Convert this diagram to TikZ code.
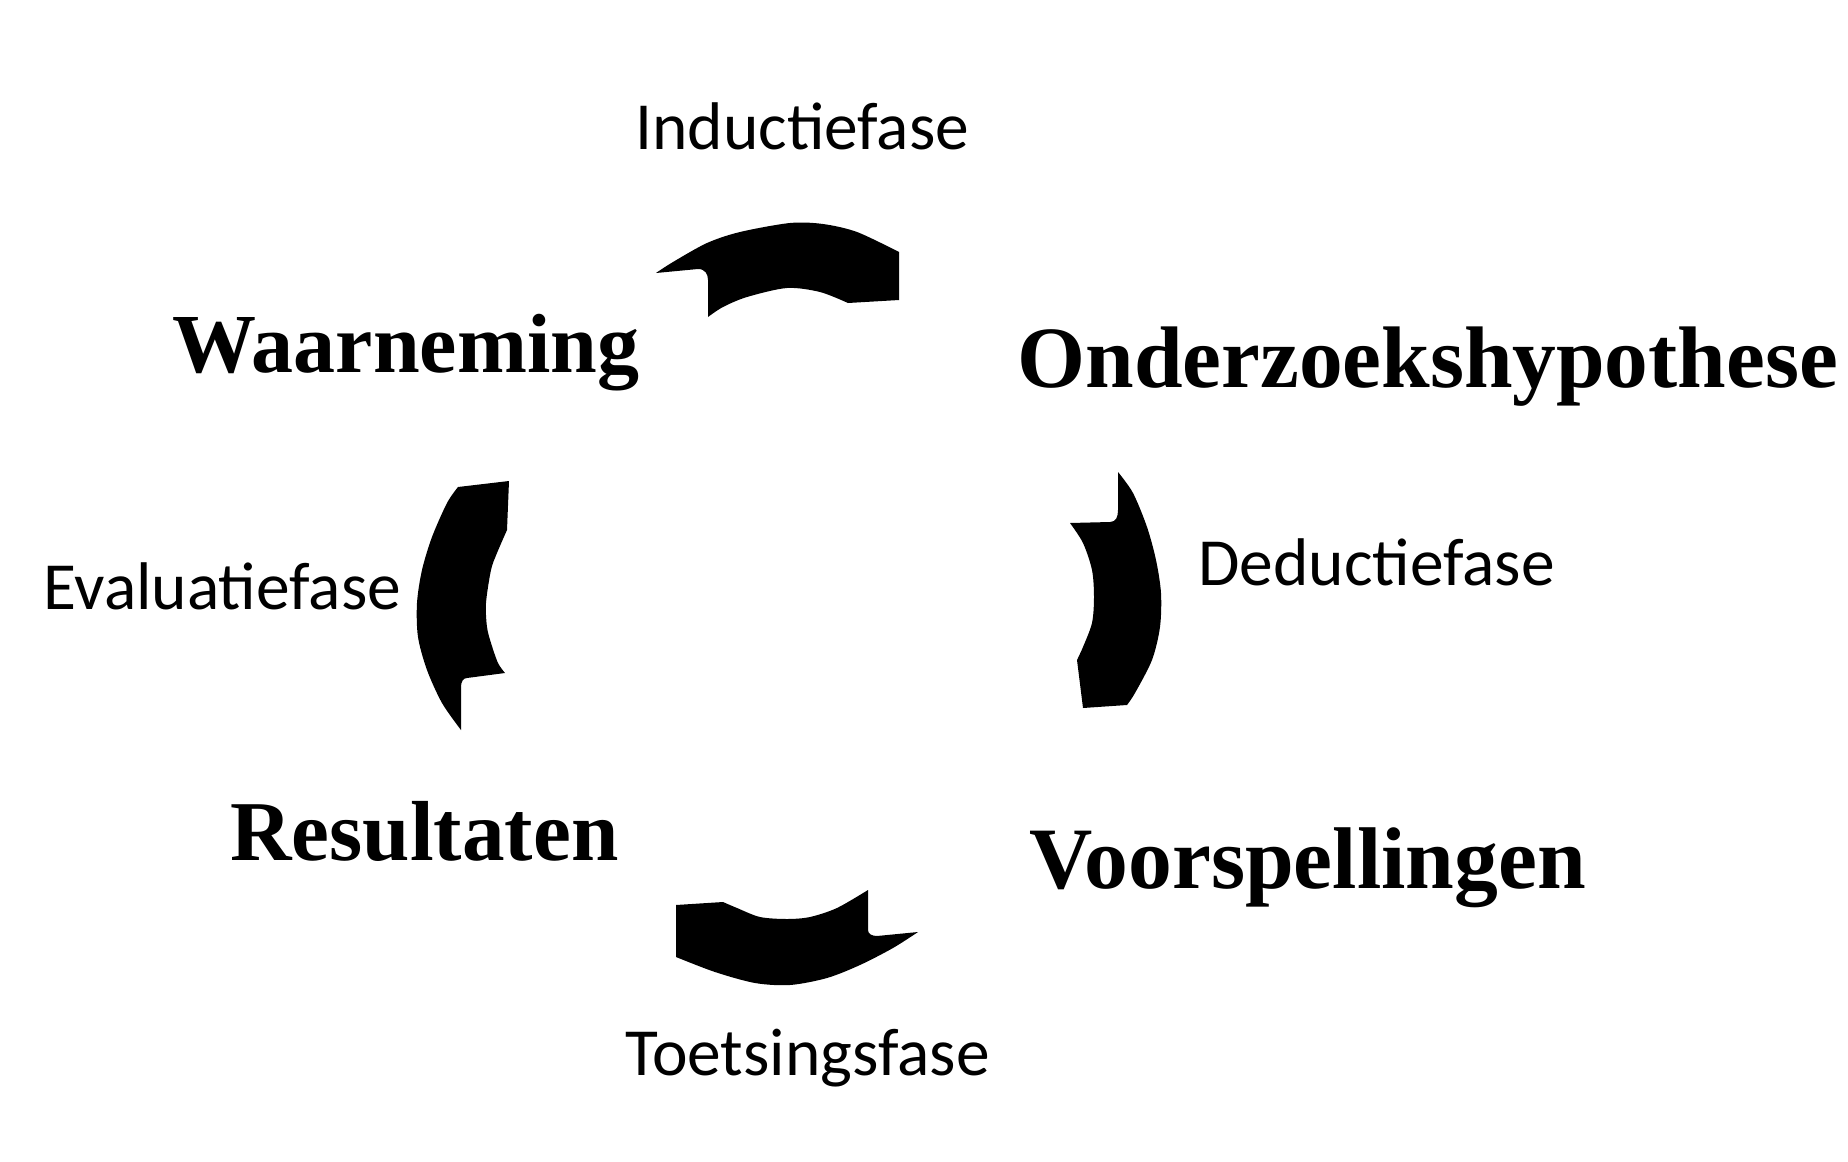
\documentclass[tikz,border=0pt]{standalone}
\usepackage{fontspec}
\setmainfont{Liberation Serif}
\newfontfamily\calibri{Carlito}
\tikzset{
  phase/.style={font=\calibri\fontsize{33.7}{40}\selectfont, anchor=base west, inner sep=0pt},
  stage/.style={font=\bfseries\fontsize{43}{50}\selectfont, anchor=base west, inner sep=0pt},
  cyclearrow/.style={fill=black, draw=none}
}
\begin{document}
\begin{tikzpicture}[x=0.5pt, y=-0.5pt]
  \useasboundingbox (0,0) rectangle (1848,1162);
  % stages of the cycle
  \node [stage, font=\bfseries\fontsize{42}{50}\selectfont] (waarneming) at (172,372) {Waarneming};
  \node [stage, font=\bfseries\fontsize{43.7}{50}\selectfont] (hypothese) at (1017,387) {Onderzoekshypothese};
  \node [stage, font=\bfseries\fontsize{43.8}{50}\selectfont] (voorspellingen) at (1029,888) {Voorspellingen};
  \node [stage, font=\bfseries\fontsize{42.6}{50}\selectfont] (resultaten) at (230,860) {Resultaten};
  % phases between the stages
  \node [phase] (inductie) at (635,149) {Inductiefase};
  \node [phase] (deductie) at (1198,585) {Deductiefase};
  \node [phase] (toetsing) at (625,1075) {Toetsingsfase};
  \node [phase] (evaluatie) at (43,609) {Evaluatiefase};
  % top arrow
  \fill [cyclearrow] (656,273) -- (698,269) .. controls (705,269) and (708,274) .. (708,280) -- (708,317)
    -- plot[smooth] coordinates {(708,317) (723,307) (747,297) (787,288) (820,292) (848,303)}
    -- (899,300) -- (899,252)
    -- plot[smooth] coordinates {(899,252) (857,232) (823,224) (790,223) (740,232) (707,243) (673,262) (656,273)}
    -- cycle;
  % right arrow
  \fill [cyclearrow] (1118,472) -- (1118,510) .. controls (1118,517) and (1116,522) .. (1110,522) -- (1070,523)
    -- plot[smooth] coordinates {(1070,523) (1083,543) (1092,570) (1094,597) (1092,623) (1083,647) (1077,660)}
    -- (1083,708) -- (1127,705)
    -- plot[smooth] coordinates {(1127,705) (1135,693) (1152,660) (1160,627) (1161,593) (1156,560) (1147,527) (1133,493) (1118,472)}
    -- cycle;
  % bottom arrow
  \fill [cyclearrow] (676,905) -- (723,902)
    -- plot[smooth] coordinates {(723,902) (737,908) (760,917) (787,919) (810,917) (837,908) (868,890)}
    -- (868,930) .. controls (868,934) and (872,936) .. (877,936) -- (918,932)
    -- plot[smooth] coordinates {(918,932) (893,948) (860,965) (827,978) (790,985) (755,983) (715,972) (676,957)}
    -- cycle;
  % left arrow
  \fill [cyclearrow] (458,487) -- (509,481) -- (507,530)
    -- plot[smooth] coordinates {(507,530) (497,553) (491,570) (486,603) (487,627) (491,643) (498,663) (505,673)}
    -- (467,678) .. controls (463,678) and (461,682) .. (461,687) -- (461,730)
    -- plot[smooth] coordinates {(461,730) (442,703) (427,670) (418,637) (417,603) (422,570) (432,537) (447,503) (458,487)}
    -- cycle;
\end{tikzpicture}
\end{document}
